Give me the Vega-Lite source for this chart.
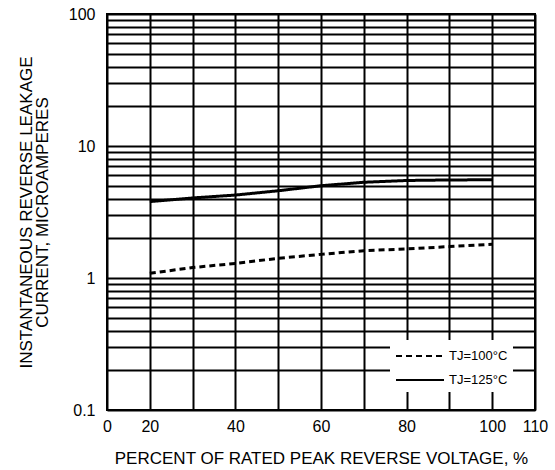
{
  "$schema": "https://vega.github.io/schema/vega-lite/v6.json",
  "width": 428,
  "height": 396,
  "autosize": {"type": "none"},
  "padding": {"left": 107, "top": 14, "right": 20, "bottom": 60},
  "background": "white",
  "config": {
    "view": {"stroke": "black", "strokeWidth": 2},
    "font": "Liberation Sans",
    "axis": {
      "gridColor": "black",
      "gridWidth": 2,
      "gridOpacity": 1,
      "ticks": false,
      "domain": false,
      "labelColor": "black",
      "titleColor": "black",
      "labelFont": "Liberation Sans",
      "titleFont": "Liberation Sans",
      "titleFontWeight": "normal",
      "labelOverlap": false,
      "labelFlush": false,
      "labelBound": false
    }
  },
  "data": {
    "values": [
      {"series": "TJ=125°C", "voltage_pct": 20, "current_uA": 3.79},
      {"series": "TJ=125°C", "voltage_pct": 30, "current_uA": 4.04},
      {"series": "TJ=125°C", "voltage_pct": 40, "current_uA": 4.25},
      {"series": "TJ=125°C", "voltage_pct": 50, "current_uA": 4.58},
      {"series": "TJ=125°C", "voltage_pct": 60, "current_uA": 5.0},
      {"series": "TJ=125°C", "voltage_pct": 70, "current_uA": 5.31},
      {"series": "TJ=125°C", "voltage_pct": 80, "current_uA": 5.48},
      {"series": "TJ=125°C", "voltage_pct": 90, "current_uA": 5.53},
      {"series": "TJ=125°C", "voltage_pct": 100, "current_uA": 5.55},
      {"series": "TJ=100°C", "voltage_pct": 20, "current_uA": 1.085},
      {"series": "TJ=100°C", "voltage_pct": 30, "current_uA": 1.2},
      {"series": "TJ=100°C", "voltage_pct": 40, "current_uA": 1.29},
      {"series": "TJ=100°C", "voltage_pct": 50, "current_uA": 1.41},
      {"series": "TJ=100°C", "voltage_pct": 60, "current_uA": 1.51},
      {"series": "TJ=100°C", "voltage_pct": 70, "current_uA": 1.61},
      {"series": "TJ=100°C", "voltage_pct": 80, "current_uA": 1.66},
      {"series": "TJ=100°C", "voltage_pct": 90, "current_uA": 1.73},
      {"series": "TJ=100°C", "voltage_pct": 100, "current_uA": 1.8}
    ]
  },
  "mark": {"type": "line", "strokeWidth": 3, "color": "black"},
  "encoding": {
    "x": {
      "field": "voltage_pct",
      "type": "quantitative",
      "scale": {"domain": [10, 110], "nice": false, "zero": false},
      "axis": {
        "values": [10, 20, 30, 40, 50, 60, 70, 80, 90, 100, 110],
        "labelExpr": "datum.value == 10 ? '0' : ((datum.value % 20 == 0 || datum.value == 110) ? datum.label : '')",
        "labelFontSize": 16,
        "labelPadding": 8,
        "title": "PERCENT OF RATED PEAK REVERSE VOLTAGE, %",
        "titleFontSize": 17,
        "titlePadding": 16
      }
    },
    "y": {
      "field": "current_uA",
      "type": "quantitative",
      "scale": {"type": "log", "domain": [0.1, 100], "nice": false},
      "axis": {
        "values": [0.1, 0.2, 0.3, 0.4, 0.5, 0.6, 0.7, 0.8, 0.9, 1, 2, 3, 4, 5, 6, 7, 8, 9, 10, 20, 30, 40, 50, 60, 70, 80, 90, 100],
        "labelExpr": "datum.value == 0.1 ? '0.1' : datum.value == 1 ? '1' : datum.value == 10 ? '10' : datum.value == 100 ? '100' : ''",
        "labelFontSize": 16,
        "labelPadding": 12,
        "title": ["INSTANTANEOUS REVERSE LEAKAGE", "CURRENT, MICROAMPERES"],
        "titleFontSize": 17,
        "titleLineHeight": 16,
        "titlePadding": 17
      }
    },
    "strokeDash": {
      "field": "series",
      "type": "nominal",
      "scale": {"domain": ["TJ=100°C", "TJ=125°C"], "range": [[6, 4], [1, 0]]},
      "legend": {
        "title": null,
        "orient": "none",
        "legendX": 283,
        "legendY": 326,
        "fillColor": "white",
        "strokeColor": null,
        "padding": 5,
        "symbolType": "M-1,0H3.8",
        "symbolSize": 400,
        "symbolStrokeWidth": 2,
        "symbolStrokeColor": "black",
        "symbolFillColor": "transparent",
        "labelFontSize": 13,
        "labelFont": "Liberation Sans",
        "labelColor": "black",
        "labelOffset": 32,
        "rowPadding": 6
      }
    }
  }
}
